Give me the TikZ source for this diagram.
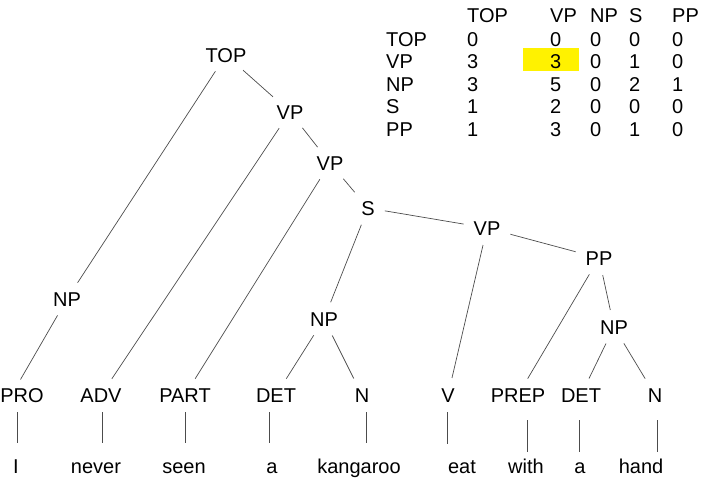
\documentclass[tikz,border=0pt]{standalone}
\usepackage{fontspec}
\setmainfont{Liberation Sans}
\begin{document}
\begin{tikzpicture}[x=1pt,y=-1pt,
  every node/.style={font=\fontsize{20}{22}\selectfont, text=black},
  lbl/.style={anchor=base, inner sep=4pt, text height=14pt, text depth=0pt},
  word/.style={anchor=base, inner sep=4pt, text height=14pt, text depth=4pt},
  cell/.style={anchor=base west, inner sep=0pt},
  edge/.style={draw=black!70, line width=0.7pt, shorten <=6pt, shorten >=6pt},
  lex/.style={draw=black!70, line width=0.7pt}
]
\useasboundingbox (0,0) rectangle (701,477);

% ---------- parse tree: phrase nodes ----------
\node[lbl] (top)  at (226,62)  {TOP};
\node[lbl] (vp1)  at (290,119) {VP};
\node[lbl] (vp2)  at (330,170) {VP};
\node[lbl] (s)    at (368,215) {S};
\node[lbl] (vp3)  at (487,235) {VP};
\node[lbl] (pp)   at (599,265) {PP};
\node[lbl] (npi)  at (67,306)  {NP};
\node[lbl] (npk)  at (324,326) {NP};
\node[lbl] (nph)  at (614,334) {NP};

% ---------- preterminals ----------
\node[lbl] (pro)  at (22,402)  {PRO};
\node[lbl] (adv)  at (101,402) {ADV};
\node[lbl] (part) at (185,402) {PART};
\node[lbl] (det1) at (276,402) {DET};
\node[lbl] (n1)   at (362,402) {N};
\node[lbl] (v)    at (448,402) {V};
\node[lbl] (prep) at (518,402) {PREP};
\node[lbl] (det2) at (581,402) {DET};
\node[lbl] (n2)   at (655,402) {N};

% ---------- words ----------
\node[word] (wI)    at (16,473)  {I};
\node[word] (wnev)  at (96,473)  {never};
\node[word] (wseen) at (184,473) {seen};
\node[word] (wa1)   at (272,473) {a};
\node[word] (wkang) at (359,473) {kangaroo};
\node[word] (weat)  at (462,473) {eat};
\node[word] (wwith) at (526,473) {with};
\node[word] (wa2)   at (580,473) {a};
\node[word] (whand) at (641,473) {hand};

% ---------- tree edges ----------
\foreach \a/\b in {top/vp1, top/npi, vp1/vp2, vp1/adv, vp2/s, vp2/part,
                   s/vp3, s/npk, npk/det1, npk/n1, vp3/v, vp3/pp,
                   pp/prep, pp/nph, nph/det2, nph/n2}
  \draw[edge] (\a) -- (\b);
% the pronoun branch leans onto the word column
\draw[edge, shorten >=5pt] (npi) -- ([xshift=-4pt]pro.north);

% ---------- lexical links (preterminal to word) ----------
\foreach \p/\w/\dx/\t/\u in {pro/wI/-5/6/12, adv/wnev/1/6/12, part/wseen/0/6/12,
                             det1/wa1/-7/6/12, n1/wkang/4/6/12, v/weat/-1/6/11}
  \draw[lex] ([xshift=\dx pt,yshift=-\t pt]\p.south) -- ([xshift=\dx pt,yshift=\u pt]\p.south |- \w.north);
\foreach \p/\w/\dx/\t/\u in {prep/wwith/9/14/3, det2/wa2/-2/14/3, n2/whand/2/14/3}
  \draw[lex] ([xshift=\dx pt,yshift=-\t pt]\p.south) -- ([xshift=\dx pt,yshift=\u pt]\p.south |- \w.north);

% ---------- count table ----------
\fill[yellow] (523,48) rectangle (579,71);

\foreach \h/\x/\n in {TOP/467/c1, VP/550/c2, NP/590/c3, S/629/c4, PP/672/c5}
  \node[cell] (h-\n) at (\x,22) {\h};

\foreach \r/\y/\a/\b/\c/\d/\e in {TOP/46/0/0/0/0/0, VP/68/3/3/0/1/0,
                                  NP/91/3/5/0/2/1, S/113/1/2/0/0/0, PP/136/1/3/0/1/0}{
  \node[cell] (r-\r)    at (386,\y) {\r};
  \node[cell] (r-\r-1)  at (467,\y) {\a};
  \node[cell] (r-\r-2)  at (550,\y) {\b};
  \node[cell] (r-\r-3)  at (590,\y) {\c};
  \node[cell] (r-\r-4)  at (629,\y) {\d};
  \node[cell] (r-\r-5)  at (672,\y) {\e};
}
\end{tikzpicture}
\end{document}
